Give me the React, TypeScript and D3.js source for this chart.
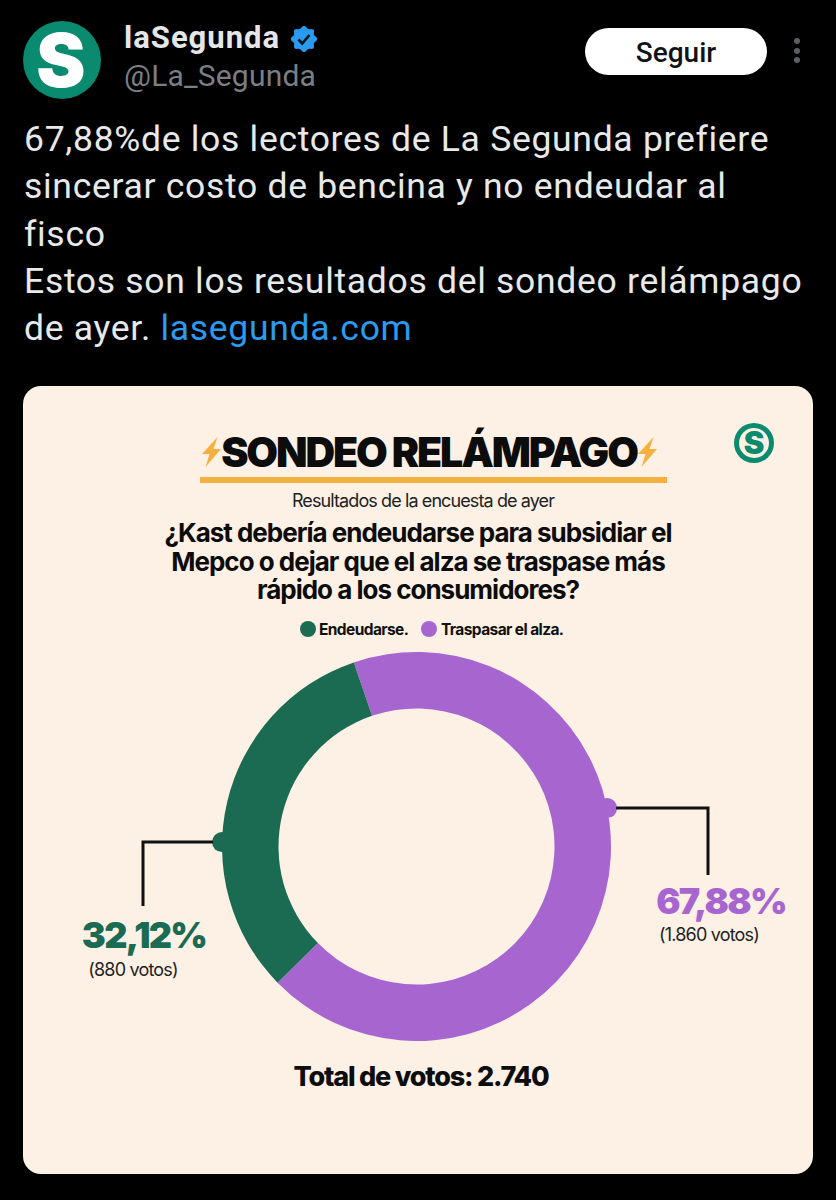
import * as d3 from 'd3';

const categories = ['Traspasar el alza.', 'Endeudarse.'];
const votes = [1860, 880];
const percentLabels = ['67,88%', '32,12%'];
const voteLabels = ['(1.860 votos)', '(880 votos)'];
const sliceColors = ['#A766CF', '#1B6B53'];
const tweetLines = [
  '67,88%de los lectores de La Segunda prefiere',
  'sincerar costo de bencina y no endeudar al',
  'fisco',
  'Estos son los resultados del sondeo relámpago',
];
const questionLines = [
  '¿Kast debería endeudarse para subsidiar el',
  'Mepco o dejar que el alza se traspase más',
  'rápido a los consumidores?',
];

const cx = 416.5;
const cy = 846.5;
const outer = 194.5;
const inner = 138;
const startAngle = (-18.8 * Math.PI) / 180;

const FONT = 'Inter, sans-serif';
const TWEET = 'Roboto, sans-serif';
const CARD = '#FDF1E6';

const pie = d3.pie<number>().sort(null).startAngle(startAngle).endAngle(startAngle + 2 * Math.PI);
const arc = d3.arc<d3.PieArcDatum<number>>().innerRadius(inner).outerRadius(outer);
const slices = pie(votes);

// where each callout leaves the ring, clockwise from 12 o'clock
const dotAngles = [(78.6 * Math.PI) / 180, (-88.7 * Math.PI) / 180];
const dotPoints = dotAngles.map(a => d3.pointRadial(a, outer));

const BOLT = 'M6 -15 L-9.5 2 L-2 2 L-6 15 L9.5 -3 L2 -3 Z';

const Bolt = ({ x, y }: { x: number; y: number }) => (
  <path d={BOLT} transform={`translate(${x},${y})`} fill="#F5B13F" />
);

const badgePoints = d3.range(0, 48).map(i => {
  const a = (i / 48) * 2 * Math.PI;
  return d3.pointRadial(a, 12 + 1.3 * Math.cos(a * 8));
});

export default function App() {
  return (
    <svg width={836} height={1200} style={{ position: 'absolute', left: 0, top: 0, display: 'block' }}>
      <rect width={836} height={1200} fill="#000" />

      {/* tweet header */}
      <circle cx={62} cy={60} r={39} fill="#0A8A6E" />
      <text x={61} y={87} textAnchor="middle" fontFamily={FONT} fontWeight={900} fontSize={74} fill="#fff">S</text>
      <text x={124} y={48} fontFamily={TWEET} fontWeight={700} fontSize={31} letterSpacing={1} fill="#E4E6E8">laSegunda</text>
      <g transform="translate(304,39)">
        <path d={d3.line()(badgePoints as [number, number][]) + 'Z'} fill="#2A9BF0" />
        <path d="M-5.5 0.5 L-1.8 4.5 L5.5 -4" fill="none" stroke="#06121c" strokeWidth={2.6} />
      </g>
      <text x={124} y={86} fontFamily={TWEET} fontSize={30} letterSpacing={0.2} fill="#7B7F83">@La_Segunda</text>
      <rect x={585} y={28} width={182} height={47} rx={23.5} fill="#fff" />
      <text x={676} y={62} textAnchor="middle" fontFamily={TWEET} fontWeight={500} fontSize={28} fill="#0F1419">Seguir</text>
      {[41, 51, 60].map(y => <circle key={y} cx={797} cy={y} r={3} fill="#5B6066" />)}

      {/* tweet text */}
      {tweetLines.map((t, i) => (
        <text key={t} x={24} y={151 + i * 47.3} fontFamily={TWEET} fontSize={35.5} letterSpacing={0.7} fill="#E7E9EA">{t}</text>
      ))}
      <text x={24} y={340} fontFamily={TWEET} fontSize={35.5} letterSpacing={0.7} fill="#E7E9EA">
        de ayer. <tspan fill="#2A9BF0">lasegunda.com</tspan>
      </text>

      {/* card */}
      <rect x={23} y={386} width={790} height={788} rx={18} fill={CARD} />
      <Bolt x={211.5} y={452} />
      <Bolt x={647.5} y={452} />
      <text x={429} y={467} textAnchor="middle" fontFamily={FONT} fontWeight={900} fontSize={41} letterSpacing={-2.1} fill="#0c0c0c">SONDEO RELÁMPAGO</text>
      <rect x={200} y={477} width={467} height={6} fill="#F5B13F" />
      <text x={423} y={507} textAnchor="middle" fontFamily={FONT} fontSize={18} letterSpacing={-0.9} fill="#222">Resultados de la encuesta de ayer</text>
      {questionLines.map((t, i) => (
        <text key={t} x={418} y={542 + i * 28.5} textAnchor="middle" fontFamily={FONT} fontWeight={700} fontSize={26} letterSpacing={-1} fill="#0c0c0c">{t}</text>
      ))}
      <circle cx={308} cy={629} r={8} fill={sliceColors[1]} />
      <text x={319} y={635} fontFamily={FONT} fontWeight={700} fontSize={15.5} letterSpacing={-0.6} fill="#111">{categories[1]}</text>
      <circle cx={429} cy={629} r={8} fill={sliceColors[0]} />
      <text x={441} y={635} fontFamily={FONT} fontWeight={700} fontSize={15.5} letterSpacing={-0.6} fill="#111">{categories[0]}</text>
      <g transform="translate(754,443)">
        <circle r={20} fill="#0A8A6E" />
        <circle r={15} fill={CARD} />
        <text y={11} textAnchor="middle" fontFamily={FONT} fontWeight={900} fontSize={31} fill="#0A8A6E">S</text>
      </g>

      {/* donut */}
      <g transform={`translate(${cx},${cy})`}>
        {slices.map((s, i) => <path key={categories[i]} d={arc(s) ?? ''} fill={sliceColors[i]} />)}
        {dotPoints.map(([x, y], i) => <circle key={i} cx={x} cy={y} r={10} fill={sliceColors[i]} />)}
      </g>

      {/* callouts */}
      <path d={`M${cx + dotPoints[0][0] + 9} ${cy + dotPoints[0][1]} H708 V875`} fill="none" stroke="#111" strokeWidth={3} />
      <path d={`M${cx + dotPoints[1][0] - 9} ${cy + dotPoints[1][1]} H143 V906`} fill="none" stroke="#111" strokeWidth={3} />
      <text x={721} y={914} textAnchor="middle" fontFamily={FONT} fontWeight={900} fontSize={36} letterSpacing={-1.7} fill={sliceColors[0]}>{percentLabels[0]}</text>
      <text x={709} y={941} textAnchor="middle" fontFamily={FONT} fontSize={18} letterSpacing={-0.8} fill="#222">{voteLabels[0]}</text>
      <text x={144} y={948} textAnchor="middle" fontFamily={FONT} fontWeight={900} fontSize={36} letterSpacing={-1.7} fill={sliceColors[1]}>{percentLabels[1]}</text>
      <text x={133} y={976} textAnchor="middle" fontFamily={FONT} fontSize={18} letterSpacing={-0.8} fill="#222">{voteLabels[1]}</text>

      <text x={421} y={1086} textAnchor="middle" fontFamily={FONT} fontWeight={800} fontSize={27} letterSpacing={-1.2} fill="#0c0c0c">{`Total de votos: ${d3.format(',')(d3.sum(votes)).replace(',', '.')}`}</text>
    </svg>
  );
}
